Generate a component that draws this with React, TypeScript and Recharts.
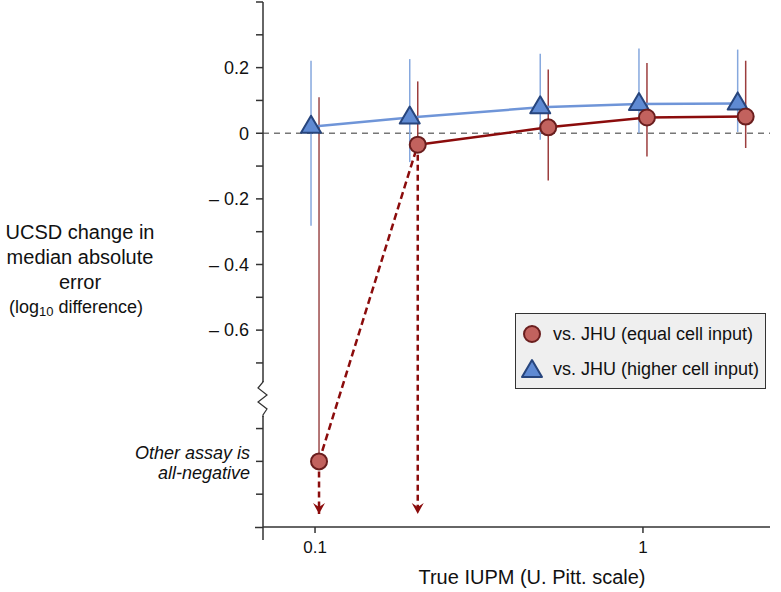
import React from "react";
import { ScatterChart, Scatter, XAxis, YAxis, ErrorBar, ReferenceLine } from "recharts";

// IUPM levels (log scale)
const iupm = [0.1, 0.2, 0.5, 1, 2];

// vs. JHU (higher cell input)
const higherMid = [0.02, 0.048, 0.079, 0.089, 0.091];
const higherLow = [-0.282, -0.088, -0.02, 0.0, 0.004];
const higherHigh = [0.221, 0.226, 0.242, 0.258, 0.255];

// vs. JHU (equal cell input); first point sits below the axis break
const equalMid = [-1.0, -0.035, 0.018, 0.048, 0.051];
const equalLow = [-1.0, -0.035, -0.144, -0.071, -0.045];
const equalHigh = [0.11, 0.158, 0.194, 0.214, 0.221];

// unbounded below: dashed arrows
const arrowIdx = [0, 1];
const arrowTip = -1.16;

const yTicks = [0.4, 0.3, 0.2, 0.1, 0, -0.1, -0.2, -0.3, -0.4, -0.5, -0.6, -0.7, -0.9, -1.0, -1.1];
const yLabelled = [0.2, 0, -0.2, -0.4, -0.6];
const xTicks = [0.1, 1];

const DODGE = 1.0285;
const FONT = "'Liberation Sans', Arial, Helvetica, sans-serif";
const RED = "#8b0c0c";
const BLUE = "#6f95d8";

const higherData = iupm.map((x, i) => ({
  x: x / DODGE,
  y: higherMid[i],
  err: [higherMid[i] - higherLow[i], higherHigh[i] - higherMid[i]],
}));
const equalData = iupm.map((x, i) => ({
  x: x * DODGE,
  y: equalMid[i],
  err: [equalMid[i] - equalLow[i], equalHigh[i] - equalMid[i]],
}));
const equalSolid = equalData.slice(1);
const equalFirst = equalData.slice(0, 1);
const equalDashed = equalData.slice(0, 2);
const arrows = arrowIdx.map((i) => [
  { x: equalData[i].x, y: equalData[i].y },
  { x: equalData[i].x, y: arrowTip, tip: true },
]);

const Dot = (p: any) => (
  <circle cx={p.cx} cy={p.cy} r={8} fill="#c2625e" stroke="#6a1e1e" strokeWidth={2} />
);
const Tri = (p: any) => (
  <polygon
    points={`${p.cx},${p.cy - 11} ${p.cx + 10},${p.cy + 6} ${p.cx - 10},${p.cy + 6}`}
    fill="#5f8ad3"
    stroke="#27457d"
    strokeWidth={2}
    strokeLinejoin="round"
  />
);
const Arrow = (p: any) =>
  p.payload && p.payload.tip ? (
    <path
      d={`M${p.cx - 6},${p.cy - 11} L${p.cx},${p.cy} L${p.cx + 6},${p.cy - 11} L${p.cx},${p.cy - 7} Z`}
      fill={RED}
    />
  ) : (
    <g />
  );
const Nothing = () => <g />;

const fmtY = (v: number) => (v < 0 ? `\u2013 ${Math.abs(v).toFixed(1)}` : v === 0 ? "0" : v.toFixed(1));

const YTick = (p: any) => {
  const v = p.payload.value;
  if (!yLabelled.some((t) => Math.abs(t - v) < 1e-9)) return <g />;
  return (
    <text x={p.x} y={p.y} dy="0.35em" textAnchor="end" fontSize={18} fill="#111" fontFamily={FONT}>
      {fmtY(v)}
    </text>
  );
};
const XTick = (p: any) => (
  <text x={p.x} y={p.y} dy="0.71em" textAnchor="middle" fontSize={17} fill="#111" fontFamily={FONT}>
    {p.payload.value}
  </text>
);

export default function App() {
  return (
    <div style={{ position: "absolute", left: 0, top: 0, width: 781, height: 592, background: "#fff", fontFamily: FONT }}>
      <ScatterChart width={781} height={592} margin={{ top: 2, right: 11, left: 0, bottom: 0 }}>
        <XAxis
          type="number"
          dataKey="x"
          scale="log"
          domain={[0.0694, 2.44]}
          allowDataOverflow
          ticks={xTicks}
          height={65}
          tickSize={6}
          tickMargin={8}
          tick={<XTick />}
          stroke="#333"
          strokeWidth={1.5}
        />
        <YAxis
          type="number"
          dataKey="y"
          domain={[-1.2, 0.4]}
          allowDataOverflow
          ticks={yTicks}
          interval={0}
          width={263}
          tickSize={7}
          tickMargin={7}
          tick={<YTick />}
          stroke="#333"
          strokeWidth={1.5}
        />
        <ReferenceLine y={0} stroke="#777" strokeDasharray="6 5" strokeWidth={1.5} />

        <Scatter
          data={higherData}
          line={{ stroke: BLUE, strokeWidth: 2.5 }}
          shape={<Tri />}
          isAnimationActive={false}
        >
          <ErrorBar dataKey="err" direction="y" width={0} stroke="#86a8de" strokeWidth={1.5} />
        </Scatter>

        <Scatter
          data={equalDashed}
          line={{ stroke: RED, strokeWidth: 2.5, strokeDasharray: "7 4" }}
          shape={<Nothing />}
          isAnimationActive={false}
        />
        {arrows.map((a, i) => (
          <Scatter
            key={i}
            data={a}
            line={{ stroke: RED, strokeWidth: 2.5, strokeDasharray: "6 4" }}
            shape={<Arrow />}
            isAnimationActive={false}
          />
        ))}

        <Scatter data={equalFirst} shape={<Dot />} isAnimationActive={false}>
          <ErrorBar dataKey="err" direction="y" width={0} stroke="#9c4a4a" strokeWidth={1.5} />
        </Scatter>
        <Scatter
          data={equalSolid}
          line={{ stroke: RED, strokeWidth: 2.5 }}
          shape={<Dot />}
          isAnimationActive={false}
        >
          <ErrorBar dataKey="err" direction="y" width={0} stroke="#9c3e3e" strokeWidth={1.5} />
        </Scatter>
      </ScatterChart>

      {/* axis decorations: break marker and small extensions */}
      <svg width={781} height={592} style={{ position: "absolute", left: 0, top: 0, pointerEvents: "none" }}>
        <line x1={255} y1={527.5} x2={263} y2={527.5} stroke="#333" strokeWidth={1.5} />
        <line x1={263} y1={527} x2={263} y2={540} stroke="#333" strokeWidth={1.5} />
        <rect x={256} y={382} width={14} height={34} fill="#fff" />
        <polyline
          points="263,381 263,382 258,388 267,395 258,402 267,409 263,415 263,417"
          fill="none"
          stroke="#333"
          strokeWidth={1.2}
        />
      </svg>

      {/* y-axis title */}
      <div style={{ position: "absolute", left: 0, top: 220, width: 160, textAlign: "center", color: "#111" }}>
        <div style={{ fontSize: 20, lineHeight: "25px" }}>
          UCSD change in
          <br />
          median absolute
          <br />
          error
        </div>
        <div style={{ fontSize: 18, lineHeight: "24px", marginLeft: -8 }}>
          (log<sub style={{ fontSize: 13, verticalAlign: "-3px", lineHeight: 0 }}>10</sub> difference)
        </div>
      </div>

      {/* annotation */}
      <div
        style={{
          position: "absolute",
          right: 781 - 250,
          top: 443,
          textAlign: "right",
          fontStyle: "italic",
          fontSize: 18,
          lineHeight: "20px",
          color: "#111",
          whiteSpace: "nowrap",
        }}
      >
        Other assay is
        <br />
        all-negative
      </div>

      {/* x-axis title */}
      <div style={{ position: "absolute", left: 532 - 150, width: 300, top: 566, textAlign: "center", fontSize: 20, color: "#111" }}>
        True IUPM (U. Pitt. scale)
      </div>

      {/* legend */}
      <div
        style={{
          position: "absolute",
          left: 515,
          top: 313,
          width: 249,
          height: 74,
          background: "#efefef",
          border: "1.5px solid #333",
          fontSize: 18,
          color: "#111",
        }}
      >
        <div style={{ position: "absolute", left: 5, top: 9, display: "flex", alignItems: "center", whiteSpace: "nowrap" }}>
          <svg width={22} height={22}>
            <circle cx={11} cy={11} r={8} fill="#c2625e" stroke="#6a1e1e" strokeWidth={2} />
          </svg>
          <span style={{ marginLeft: 10 }}>vs. JHU (equal cell input)</span>
        </div>
        <div style={{ position: "absolute", left: 5, top: 44, display: "flex", alignItems: "center", whiteSpace: "nowrap" }}>
          <svg width={22} height={22}>
            <polygon points="11,2 21,19 1,19" fill="#5f8ad3" stroke="#27457d" strokeWidth={2} strokeLinejoin="round" />
          </svg>
          <span style={{ marginLeft: 10 }}>vs. JHU (higher cell input)</span>
        </div>
      </div>
    </div>
  );
}
